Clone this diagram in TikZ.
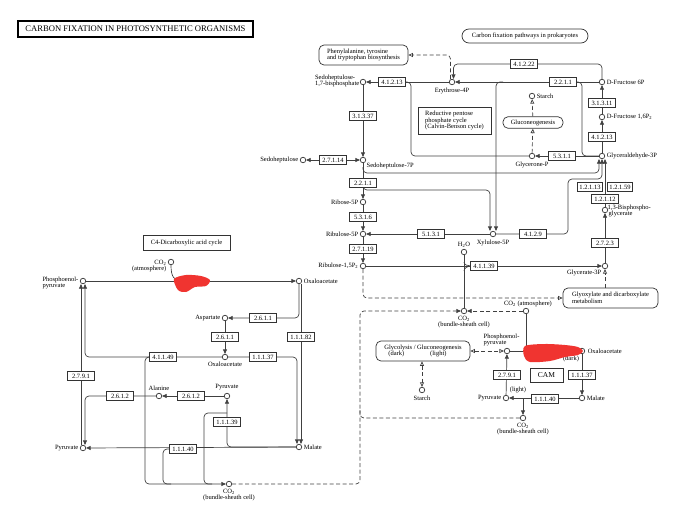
\documentclass[tikz,border=0pt]{standalone}
\usepackage{fontspec}
\setmainfont{Liberation Serif}
\usetikzlibrary{arrows.meta,positioning}
\definecolor{blot}{RGB}{240,52,48}
\pgfdeclarelayer{bg}
\pgfsetlayers{bg,main}
\tikzset{
  cpd/.style={circle, draw=black!80, fill=white, line width=0.7pt, inner sep=0pt, minimum size=5.5pt},
  enz/.style={draw=black!80, fill=white, line width=0.7pt, minimum width=27pt, minimum height=8.5pt, inner sep=0pt, font=\fontsize{6.5}{6.5}\selectfont},
  narrow/.style={enz, minimum width=25pt},
  pathmap/.style={draw=black!80, fill=white, rounded corners=5pt, line width=0.7pt, align=left, inner sep=0pt, font=\fontsize{6.5}{6.8}\selectfont},
  note/.style={draw=black!80, fill=white, line width=0.7pt, align=left, inner sep=0pt, font=\fontsize{6.5}{6.8}\selectfont},
  txt/.style={inner sep=0.5pt, align=center, font=\fontsize{6.5}{6.4}\selectfont},
  rxn/.style={draw=black!75, line width=0.7pt},
  link/.style={draw=black!75, line width=0.7pt, dash pattern=on 4pt off 2.5pt},
  fwd/.style={-{Triangle[length=4.5pt,width=4pt]}},
  twoway/.style={{Triangle[length=4.5pt,width=4pt]}-{Triangle[length=4.5pt,width=4pt]}},
  tomap/.style={-{Triangle[open,length=4.5pt,width=4pt]}},
  bothmap/.style={{Triangle[open,length=4.5pt,width=4pt]}-{Triangle[open,length=4.5pt,width=4pt]}},
}

\begin{document}
\begin{tikzpicture}[x=1pt,y=-1pt]
  \useasboundingbox (0,0) rectangle (681,509);

  % Title and boxes
  \node[note, line width=1.3pt, draw=black, minimum width=235pt, minimum height=16pt, align=center, font=\fontsize{8.6}{8.6}\selectfont] (title) at (135.5,29) {CARBON FIXATION IN PHOTOSYNTHETIC ORGANISMS};
  \node[note, minimum width=73pt, minimum height=27pt] (calvin) at (454.5,120.5) {Reductive pentose\\phosphate cycle\\(Calvin-Benson cycle)};
  \node[note, minimum width=87pt, minimum height=15pt, align=center] (c4box) at (186.5,242.5) {C4-Dicarboxylic acid cycle};
  \node[note, minimum width=33pt, minimum height=14pt, align=center, font=\fontsize{7.5}{7.5}\selectfont] (cam) at (546.5,375) {CAM};

  % Pathway maps
  \node[pathmap, minimum width=89pt, minimum height=20pt] (mPhe) at (363.5,55) {Phenylalanine, tyrosine\\and tryptophan biosynthesis};
  \node[pathmap, minimum width=126pt, minimum height=14pt, rounded corners=7pt] (mProk) at (525,36) {Carbon fixation pathways in prokaryotes};
  \node[pathmap, minimum width=60pt, minimum height=11.5pt] (mGlcNG) at (533,122.5) {Gluconeogenesis};
  \node[pathmap, minimum width=95pt, minimum height=20pt] (mGlyox) at (610.5,298) {Glyoxylate and dicarboxylate\\metabolism};
  \node[pathmap, minimum width=94pt, minimum height=20pt] (mGlyc) at (423,351) {Glycolysis / Gluconeogenesis\\\hspace*{4pt}(dark)\hspace{26pt}(light)};

  % Calvin cycle compounds
  \node[cpd] (E4P) at (452,82) {};
  \node[cpd] (S17BP) at (363,82) {};
  \node[cpd] (F6P) at (602,82) {};
  \node[cpd] (FBP) at (602,117) {};
  \node[cpd] (G3P) at (602,156) {};
  \node[cpd] (GnP) at (532,156) {};
  \node[cpd] (Starch1) at (532,96) {};
  \node[cpd] (S7P) at (363,160) {};
  \node[cpd] (Sedo) at (303,160) {};
  \node[cpd] (R5P) at (363,202) {};
  \node[cpd] (Ru5P) at (363,234) {};
  \node[cpd] (Xu5P) at (493,234) {};
  \node[cpd] (RuBP) at (363,266) {};
  \node[cpd] (H2O) at (464,252) {};
  \node[cpd] (BPG) at (605,210) {};
  \node[cpd] (PGA) at (605,266) {};
  \node[cpd] (CO2bs) at (464,311) {};
  \node[cpd] (CO2atm) at (526,311) {};

  \node[txt, below=2pt of E4P] (tE4P) {Erythrose-4P};
  \node[txt, align=left, anchor=east] (tS17BP) at (360,81) {Sedoheptulose-\\1,7-bisphosphate};
  \node[txt, right=1pt of F6P] (tF6P) {D-Fructose 6P};
  \node[txt, right=1pt of FBP] (tFBP) {D-Fructose 1,6P\textsubscript{2}};
  \node[txt, right=1pt of G3P] (tG3P) {Glyceraldehyde-3P};
  \node[txt, below=2pt of GnP] (tGnP) {Glycerone-P};
  \node[txt, right=1pt of Starch1] (tStarch1) {Starch};
  \node[txt, anchor=north west] (tS7P) at (366,162) {Sedoheptulose-7P};
  \node[txt, left=1pt of Sedo] (tSedo) {Sedoheptulose};
  \node[txt, left=1pt of R5P] (tR5P) {Ribose-5P};
  \node[txt, left=1pt of Ru5P] (tRu5P) {Ribulose-5P};
  \node[txt, below=2pt of Xu5P] (tXu5P) {Xylulose-5P};
  \node[txt, left=1pt of RuBP] (tRuBP) {Ribulose-1,5P\textsubscript{2}};
  \node[txt, above=1pt of H2O] (tH2O) {H\textsubscript{2}O};
  \node[txt, align=left, anchor=west] (tBPG) at (607,211) {1,3-Bisphospho-\\\hspace*{1pt}glycerate};
  \node[txt, anchor=east] (tPGA) at (602,273) {Glycerate-3P};
  \node[txt, below=1pt of CO2bs] (tCO2bs) {CO\textsubscript{2}\\(bundle-sheath cell)};
  \node[txt, anchor=south] (tCO2atm) at (528,308) {CO\textsubscript{2} (atmosphere)};

  % Calvin cycle enzymes
  \node[enz] (e41213a) at (392,82) {4.1.2.13};
  \node[enz] (e2211a) at (563,82) {2.2.1.1};
  \node[enz] (e41222) at (524,64) {4.1.2.22};
  \node[enz] (e31311) at (602,103) {3.1.3.11};
  \node[enz] (e41213b) at (602,137) {4.1.2.13};
  \node[enz] (e5311) at (562,156) {5.3.1.1};
  \node[enz] (e31337) at (363,116) {3.1.3.37};
  \node[enz] (e27114) at (333,160) {2.7.1.14};
  \node[enz] (e2211b) at (363,183) {2.2.1.1};
  \node[enz] (e5316) at (363,217) {5.3.1.6};
  \node[enz] (e5131) at (431,234) {5.1.3.1};
  \node[enz] (e41229) at (533,234) {4.1.2.9};
  \node[enz] (e27119) at (363,249) {2.7.1.19};
  \node[enz] (e41139) at (484,266) {4.1.1.39};
  \node[narrow] (e12113) at (590,187) {1.2.1.13};
  \node[narrow] (e12159) at (620,187) {1.2.1.59};
  \node[enz] (e12112) at (605,199) {1.2.1.12};
  \node[enz] (e2723) at (605,243) {2.7.2.3};

  % C4 compounds
  \node[cpd] (CO2a) at (171,262) {};
  \node[cpd] (PEP) at (83,281) {};
  \node[cpd] (OAA1) at (299,281) {};
  \node[cpd] (Asp) at (225,318) {};
  \node[cpd] (OAA2) at (225,357) {};
  \node[cpd] (Mal) at (299,447) {};
  \node[cpd] (Pyr2) at (227,396) {};
  \node[cpd] (Ala) at (159,396) {};
  \node[cpd] (Pyr1) at (83,448) {};
  \node[cpd] (CO2b) at (229,484) {};

  \node[txt, align=right, anchor=east] (tCO2a) at (167,266) {CO\textsubscript{2}\\(atmosphere)};
  \node[txt, align=left, anchor=east] (tPEP) at (79,283) {Phosphoenol-\\pyruvate};
  \node[txt, right=1pt of OAA1] (tOAA1) {Oxaloacetate};
  \node[txt, left=1pt of Asp] (tAsp) {Aspartate};
  \node[txt, below=1.5pt of OAA2] (tOAA2) {Oxaloacetate};
  \node[txt, right=1pt of Mal] (tMal) {Malate};
  \node[txt, above=2pt of Pyr2] (tPyr2) {Pyruvate};
  \node[txt, above=2pt of Ala] (tAla) {Alanine};
  \node[txt, left=1pt of Pyr1] (tPyr1) {Pyruvate};
  \node[txt, below=1pt of CO2b] (tCO2b) {CO\textsubscript{2}\\(bundle-sheath cell)};

  % C4 enzymes
  \node[enz] (e2611a) at (263,318) {2.6.1.1};
  \node[enz] (e2611b) at (225,337) {2.6.1.1};
  \node[enz] (e11182) at (301,337) {1.1.1.82};
  \node[enz] (e11137a) at (263,357) {1.1.1.37};
  \node[enz] (e41149) at (163,357) {4.1.1.49};
  \node[enz] (e2791a) at (81,376) {2.7.9.1};
  \node[enz] (e2612a) at (120,396) {2.6.1.2};
  \node[enz] (e2612b) at (191,396) {2.6.1.2};
  \node[enz] (e11139) at (227,422) {1.1.1.39};
  \node[enz] (e11140a) at (183,449) {1.1.1.40};

  % CAM compounds and enzymes
  \node[cpd] (PEPc) at (507,351) {};
  \node[cpd] (OAAc) at (582,351) {};
  \node[cpd] (MALc) at (582,398) {};
  \node[cpd] (PYRc) at (506,398) {};
  \node[cpd] (CO2c) at (523,418) {};
  \node[cpd] (Starch2) at (422,390) {};

  \node[txt, align=left, anchor=south west] (tPEPc) at (483,347) {Phosphoenol-\\pyruvate};
  \node[txt, right=2pt of OAAc] (tOAAc) {Oxaloacetate};
  \node[txt] (tdark) at (571,359) {(dark)};
  \node[txt, right=1pt of MALc] (tMALc) {Malate};
  \node[txt, left=1pt of PYRc] (tPYRc) {Pyruvate};
  \node[txt] (tlight) at (518,390) {(light)};
  \node[txt, below=1pt of CO2c] (tCO2c) {CO\textsubscript{2}\\(bundle-sheath cell)};
  \node[txt, below=2pt of Starch2] (tStarch2) {Starch};

  \node[enz] (e2791b) at (507,375) {2.7.9.1};
  \node[enz] (e11137b) at (582,375) {1.1.1.37};
  \node[enz] (e11140b) at (545,399) {1.1.1.40};

  % Branch points
  \coordinate (cA) at (411,82);
  \coordinate (cB) at (582,156);
  \coordinate (cC) at (363,167);
  \coordinate (cD) at (599,173);
  \coordinate (cE) at (363,186);
  \coordinate (cF) at (490,190);
  \coordinate (cG) at (503,82);
  \coordinate (cH) at (568,179);
  \coordinate (cI) at (602,179);
  \coordinate (cJ) at (183,281);
  \coordinate (cK) at (145,484);
  \coordinate (cL) at (227,413);
  \coordinate (cM) at (204,484);
  \coordinate (cN) at (212,484);
  \coordinate (cO) at (163,484);
  \coordinate (cP) at (171,484);
  \coordinate (cQ) at (360,311);
  \coordinate (cR) at (526,351);
  \coordinate (cS) at (523,399);
  \coordinate (cT) at (360,410);
  \coordinate (cU) at (464,262);
  \coordinate (cV) at (471,266);
  \coordinate (cW) at (464,271);

  \begin{pgfonlayer}{bg}
    % Calvin cycle
    \draw[rxn, fwd] (E4P) -- (S17BP);
    \draw[rxn, rounded corners=4pt] (GnP) -| (cA) -- (e41213a.east);
    \draw[rxn, fwd] (S17BP) -- (S7P);
    \draw[rxn, twoway] (Sedo) -- (S7P);
    \draw[rxn, fwd] (S7P) -- (R5P);
    \draw[rxn, fwd] (R5P) -- (Ru5P);
    \draw[rxn, fwd] (Ru5P) -- (RuBP);
    \draw[rxn, fwd] (Xu5P) -- (Ru5P);
    \draw[rxn, fwd] (F6P) -- (E4P);
    \draw[rxn, rounded corners=4pt] (F6P) |- (e41222);
    \draw[rxn, fwd, rounded corners=4pt] (e41222) -| ([xshift=1.5pt]E4P.north);
    \draw[rxn, rounded corners=4pt] (e2211a) -| (cB) -- (G3P);
    \draw[rxn, fwd] (FBP) -- (F6P);
    \draw[rxn, fwd] (G3P) -- (FBP);
    \draw[rxn, fwd] (G3P) -- (GnP);
    \draw[rxn, fwd, rounded corners=4pt] (cC) |- (cD) -- ([xshift=-3pt]G3P.south);
    \draw[rxn, fwd, rounded corners=4pt] (cE) |- (cF) -- ([xshift=-3pt]Xu5P.north);
    \draw[rxn, fwd, rounded corners=4pt] (cG) -| ([xshift=3pt]Xu5P.north);
    \draw[rxn, fwd, rounded corners=4pt] (Xu5P) -| (cH) -- (cI) -- (G3P.south);
    \draw[rxn, fwd] (BPG) -- ([xshift=3pt]G3P.south);
    \draw[rxn, fwd] (PGA) -- (BPG);
    \draw[rxn, fwd] (RuBP) -- (PGA);
    \draw[rxn] (H2O) -- (CO2bs);
    \draw[rxn] (cU) .. controls (464,265) and (468,266) .. (cV) .. controls (468,266) and (464,268) .. (cW);
    \draw[link, tomap, rounded corners=4pt] (RuBP) |- (mGlyox);
    \draw[link, tomap] (mGlyox.north -| PGA) -- (PGA);
    \draw[link, tomap, rounded corners=4pt] ([xshift=-1.5pt]E4P.north) |- (mPhe);
    \draw[link, tomap] (GnP) -- (mGlcNG);
    \draw[link, tomap] (mGlcNG) -- (Starch1);

    % C4 cycle
    \draw[rxn, fwd] (PEP) -- (OAA1);
    \draw[rxn] (CO2a) .. controls (171,277) and (174,281) .. (cJ);
    \draw[rxn, fwd, rounded corners=4pt] (OAA1) |- (Asp);
    \draw[rxn, fwd] ([xshift=2pt]OAA1.south) -- ([xshift=2pt]Mal.north);
    \draw[rxn, fwd] (Asp) -- (OAA2);
    \draw[rxn, fwd, rounded corners=4pt] (OAA2) -| ([xshift=-2pt]Mal.north);
    \draw[rxn, fwd, rounded corners=4pt] (OAA2) -| ([xshift=2pt]PEP.south);
    \draw[rxn, fwd, rounded corners=4pt] (e41149) -| (cK) -- (CO2b);
    \draw[rxn, fwd] ([xshift=-2pt]Pyr1.north) -- ([xshift=-2pt]PEP.south);
    \draw[rxn, fwd, rounded corners=4pt] (Ala) -| ([xshift=2pt]Pyr1.north);
    \draw[rxn, fwd] (Pyr2) -- (Ala);
    \draw[rxn, fwd, rounded corners=4pt] (Mal) -| (Pyr2);
    \draw[rxn, fwd] (Mal) -- (Pyr1);
    \draw[rxn, rounded corners=4pt] (cL) -| (cM) -- (cN);
    \draw[rxn, rounded corners=4pt] (e11140a) -| (cO) -- (cP);

    % CO2 transport
    \draw[link, fwd, rounded corners=4pt] (CO2b) -| (cQ) -- (CO2bs);
    \draw[link, fwd] (CO2atm) -- (CO2bs);
    \draw[link, rounded corners=4pt] (CO2c) -| (cT);

    % CAM
    \draw[rxn] (CO2atm) -- (cR);
    \draw[rxn, fwd] (PEPc) -- (OAAc);
    \draw[rxn, fwd] (OAAc) -- (MALc);
    \draw[rxn, fwd] (MALc) -- (PYRc);
    \draw[rxn, fwd] (PYRc) -- (PEPc);
    \draw[rxn, fwd] (cS) -- (CO2c);
    \draw[link, bothmap] (mGlyc.east |- PEPc) -- (PEPc);
    \draw[link, bothmap] (mGlyc.south -| Starch2) -- (Starch2);
  \end{pgfonlayer}

  % red marks
  \fill[blot] plot[smooth cycle] coordinates {(174,279) (186,275) (201,276) (210,280) (206,286) (195,287) (186,292) (178,290)};
  \fill[blot] plot[smooth cycle] coordinates {(525,346) (545,344) (565,345) (578,347) (583,351) (578,355) (565,357) (550,361) (530,362) (524,356)};
\end{tikzpicture}
\end{document}
